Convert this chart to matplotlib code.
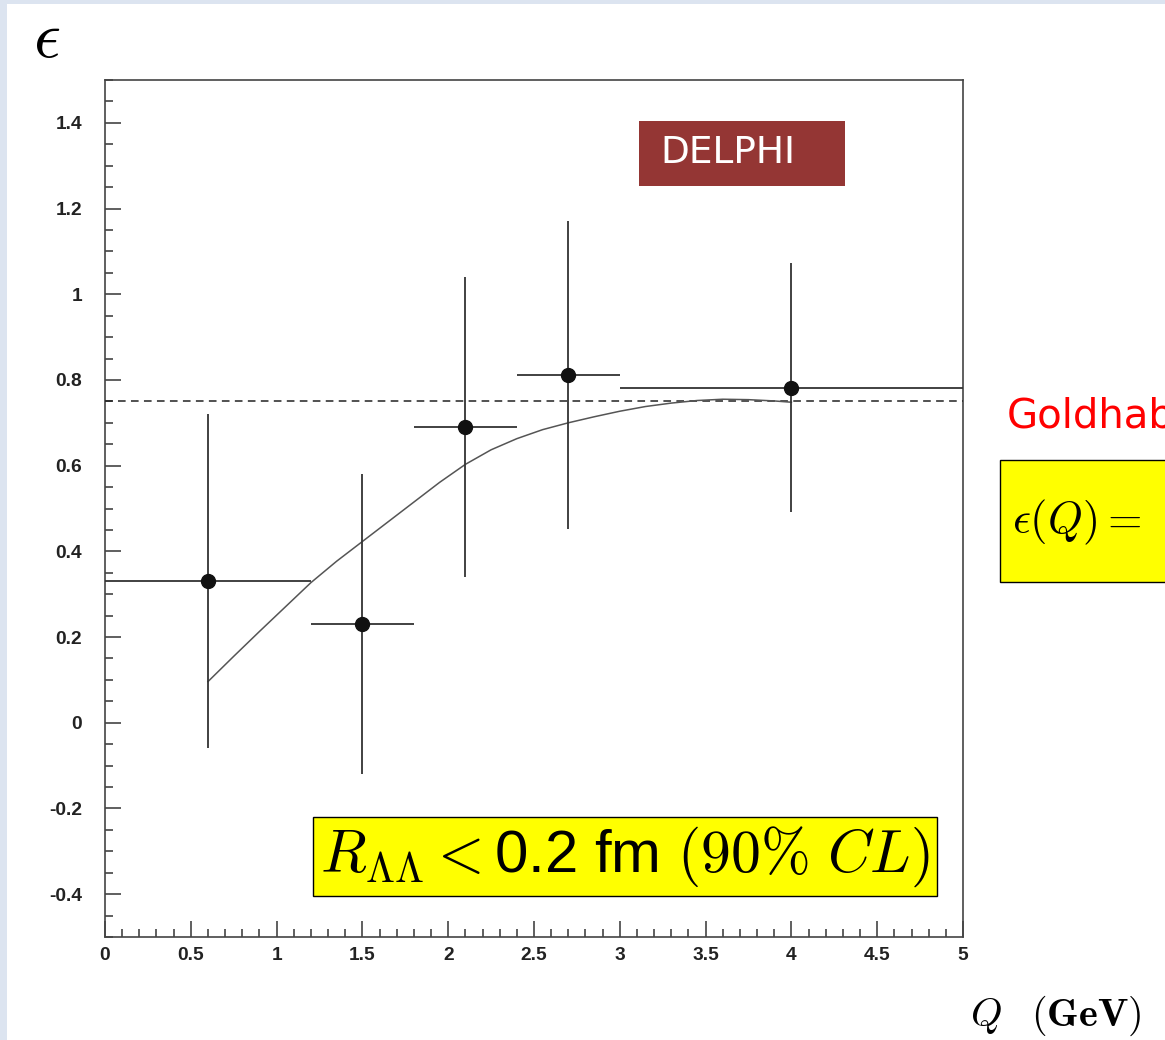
import matplotlib
matplotlib.use("Agg")
import matplotlib.pyplot as plt
from matplotlib.patches import Rectangle
from matplotlib.ticker import MultipleLocator, FixedLocator

plt.rcParams['mathtext.fontset'] = 'cm'

# ---- data ----
q_center = [0.6, 1.5, 2.1, 2.7, 4.0]
q_low = [0.0, 1.2, 1.8, 2.4, 3.0]
q_high = [1.2, 1.8, 2.4, 3.0, 5.0]
eps = [0.331, 0.231, 0.690, 0.812, 0.782]
eps_err = [0.39, 0.35, 0.35, 0.36, 0.29]

fit_q = [0.6, 0.75, 0.9, 1.05, 1.2, 1.35, 1.5, 1.65, 1.8, 1.95, 2.1, 2.25,
         2.4, 2.55, 2.7, 2.85, 3.0, 3.15, 3.3, 3.45, 3.6, 3.75, 3.9, 4.0]
fit_eps = [0.096, 0.155, 0.213, 0.270, 0.327, 0.377, 0.423, 0.469, 0.515,
           0.561, 0.603, 0.637, 0.663, 0.684, 0.700, 0.714, 0.727, 0.738,
           0.746, 0.752, 0.755, 0.754, 0.751, 0.748]

eps_limit = 0.75

xticks = [0, 0.5, 1, 1.5, 2, 2.5, 3, 3.5, 4, 4.5, 5]
xticklabels = ['0', '0.5', '1', '1.5', '2', '2.5', '3', '3.5', '4', '4.5', '5']
yticks = [-0.4, -0.2, 0, 0.2, 0.4, 0.6, 0.8, 1.0, 1.2, 1.4]
yticklabels = ['-0.4', '-0.2', '0', '0.2', '0.4', '0.6', '0.8', '1', '1.2', '1.4']

W, H = 1165, 1040
fig = plt.figure(figsize=(W / 100, H / 100), dpi=100)
fig.patch.set_facecolor('white')

def fx(px):
    return px / W

def fy(py):
    return 1 - py / H

# light frame strips (top and left)
fig.patches.append(Rectangle((0, fy(4)), 1, 4 / H, transform=fig.transFigure,
                             facecolor='#dce4f0', edgecolor='none', zorder=0))
fig.patches.append(Rectangle((0, 0), 7 / W, 1, transform=fig.transFigure,
                             facecolor='#dce4f0', edgecolor='none', zorder=0))

ax = fig.add_axes([fx(105), fy(937), fx(963) - fx(105), fy(80) - fy(937)])
ax.set_xlim(0, 5)
ax.set_ylim(-0.5, 1.5)

# error bars
xerr_lo = [c - l for c, l in zip(q_center, q_low)]
xerr_hi = [h - c for c, h in zip(q_center, q_high)]
ax.errorbar(q_center, eps, xerr=[xerr_lo, xerr_hi], yerr=eps_err, fmt='o',
            color='#111111', ecolor='#333333', elinewidth=1.3, capsize=0,
            markersize=10, zorder=5)

# fit curve
ax.plot(fit_q, fit_eps, color='#555555', lw=1.1, zorder=4)

# dashed line
ax.axhline(eps_limit, color='#222222', lw=1.1, ls=(0, (5, 3.5)), zorder=3)

# ticks
ax.xaxis.set_major_locator(FixedLocator(xticks))
ax.set_xticklabels(xticklabels)
ax.xaxis.set_minor_locator(MultipleLocator(0.1))
ax.yaxis.set_major_locator(FixedLocator(yticks))
ax.set_yticklabels(yticklabels)
ax.yaxis.set_minor_locator(MultipleLocator(0.05))
ax.tick_params(which='both', direction='in', top=False, right=False,
               color='#444444', width=1.2)
ax.tick_params(which='major', length=11.5)
ax.tick_params(which='minor', length=5.8)
ax.tick_params(axis='x', which='major', pad=7)
ax.tick_params(axis='y', which='major', pad=16.5)
for lab in ax.get_xticklabels() + ax.get_yticklabels():
    lab.set_fontfamily('Liberation Sans')
    lab.set_fontweight('bold')
    lab.set_fontsize(13.8)
    lab.set_color('#222222')
for sp in ax.spines.values():
    sp.set_color('#444444')
    sp.set_linewidth(1.2)

# DELPHI label
ax.add_patch(Rectangle((3.112, 1.253), 1.2, 0.152, transform=ax.transData,
                       facecolor='#943634', edgecolor='none', zorder=6))
fig.text(fx(660), fy(153), 'DELPHI', color='white', fontsize=27,
         family='DejaVu Sans', ha='left', va='center', zorder=7)

# R box
ax.text(0.5 * (1.19 + 4.87), -0.313,
        r'$R_{\mathsf{\Lambda\Lambda}} <$0.2 fm $(90\%\ CL)$',
        fontsize=43, family='Liberation Sans', ha='center', va='center',
        zorder=8,
        bbox=dict(boxstyle='square,pad=0.12', facecolor='#ffff00',
                  edgecolor='black', lw=1.0))

# axis labels
fig.text(fx(47), fy(38), r'$\epsilon$', fontsize=48, ha='center', va='center')
fig.text(fx(970), fy(1016), r'$Q\ \ \,(\mathbf{GeV})$', fontsize=29,
         ha='left', va='center')

# right-side annotations (cut by the figure edge as in the source slide)
fig.text(fx(1007), fy(428), 'Goldhaber', color='#ff0000', fontsize=29,
         family='DejaVu Sans', ha='left', va='baseline')
fig.patches.append(Rectangle((fx(1000), fy(582)), 0.2, (582 - 460) / H,
                             transform=fig.transFigure, facecolor='#ffff00',
                             edgecolor='black', lw=1.0, zorder=1))
fig.text(fx(1012), fy(522), r'$\epsilon(Q) = $', fontsize=32,
         ha='left', va='center', zorder=3)

fig.savefig('out.png', dpi=100)
